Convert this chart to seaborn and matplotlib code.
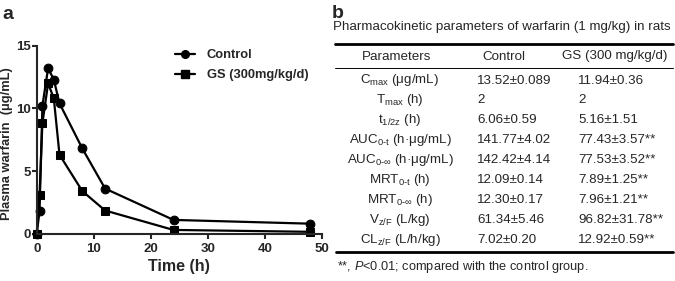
import numpy as np
import pandas as pd
import matplotlib
matplotlib.use('Agg')
import matplotlib.pyplot as plt
import seaborn as sns
from matplotlib.lines import Line2D

# plasma concentration-time data
time_h = [0, 0.5, 1, 2, 3, 4, 8, 12, 24, 48]
control = [0, 1.8, 10.2, 13.2, 12.3, 10.4, 6.8, 3.6, 1.1, 0.8]
gs = [0, 3.1, 8.8, 12.0, 10.8, 6.3, 3.4, 1.85, 0.3, 0.15]
groups = ['Control', 'GS (300mg/kg/d)']

# table contents
tbl_title = 'Pharmacokinetic parameters of warfarin (1 mg/kg) in rats'
tbl_header = ['Parameters', 'Control', 'GS (300 mg/kg/d)']
param_names = [r'C$_\mathregular{max}$ (μg/mL)', r'T$_\mathregular{max}$ (h)',
               r't$_\mathregular{1/2z}$ (h)', r'AUC$_\mathregular{0\text{-}t}$ (h·μg/mL)',
               r'AUC$_\mathregular{0\text{-}∞}$ (h·μg/mL)', r'MRT$_\mathregular{0\text{-}t}$ (h)',
               r'MRT$_\mathregular{0\text{-}∞}$ (h)', r'V$_\mathregular{z/F}$ (L/kg)',
               r'CL$_\mathregular{z/F}$ (L/h/kg)']
control_vals = ['13.52±0.089', '2', '6.06±0.59', '141.77±4.02', '142.42±4.14',
                '12.09±0.14', '12.30±0.17', '61.34±5.46', '7.02±0.20']
gs_vals = ['11.94±0.36', '2', '5.16±1.51', '77.43±3.57**', '77.53±3.52**',
           '7.89±1.25**', '7.96±1.21**', '96.82±31.78**', '12.92±0.59**']
footnote = '**, $\\it{P}$<0.01; compared with the control group.'

df = pd.DataFrame({
    'Time': time_h * 2,
    'Conc': control + gs,
    'Group': [groups[0]] * len(time_h) + [groups[1]] * len(time_h),
})

sns.set_style('ticks')
plt.rcParams['font.family'] = ['Liberation Sans', 'DejaVu Sans']
plt.rcParams['mathtext.fontset'] = 'custom'
plt.rcParams['mathtext.rm'] = 'Liberation Sans'
plt.rcParams['mathtext.it'] = 'Liberation Sans:italic'

W, H = 675, 281
fig = plt.figure(figsize=(6.75, 2.81), dpi=100)

def fx(px):
    return px / W

def fy(py):
    return 1 - py / H

# panel a
x0, x1, y0, y1 = 36.7, 321.7, 233.7, 45.7
ax = fig.add_axes([fx(x0), fy(y0), fx(x1 - x0), fy(y1) - fy(y0)])
sns.lineplot(data=df, x='Time', y='Conc', hue='Group', style='Group',
             markers={groups[0]: 'o', groups[1]: 's'}, dashes=False,
             palette=['black', 'black'], linewidth=1.6, markersize=6.3,
             markeredgecolor='black', ax=ax, legend=False)
for ln in ax.lines:
    ln.set_clip_on(False)
ax.set_xlim(0, 50)
ax.set_ylim(0, 15)
ax.set_xticks([0, 10, 20, 30, 40, 50])
ax.set_yticks([0, 5, 10, 15])
sns.despine(ax=ax)
for s in ['left', 'bottom']:
    ax.spines[s].set_linewidth(1.5)
ax.tick_params(width=1.5, length=3.5, labelsize=9.5)
ax.tick_params(axis='x', pad=3.5)
ax.tick_params(axis='y', pad=1)
for lab in ax.get_xticklabels() + ax.get_yticklabels():
    lab.set_fontweight('bold')
ax.set_xlabel('Time (h)', fontsize=11.5, fontweight='bold')
ax.set_ylabel('Plasma warfarin  (μg/mL)', fontsize=9.3, fontweight='bold')
ax.xaxis.set_label_coords(0.5, (y0 - 259) / (y0 - y1))
ax.yaxis.set_label_coords((13.5 - x0) / (x1 - x0), 0.48)

handles = [Line2D([], [], color='black', marker='o', lw=1.6, markersize=5.5),
           Line2D([], [], color='black', marker='s', lw=1.6, markersize=5.5)]
fig.legend(handles, groups, loc='upper left', bbox_to_anchor=(fx(175), fy(49)),
           frameon=False, prop={'weight': 'bold', 'size': 9.3},
           handlelength=1.55, handletextpad=0.9, labelspacing=0.62,
           borderpad=0, borderaxespad=0)

fig.text(fx(2), fy(19), 'a', fontsize=14, fontweight='bold', va='baseline')
fig.text(fx(332), fy(18), 'b', fontsize=14, fontweight='bold', va='baseline')

# panel b: table
fs = 9.6
fig.text(fx(333), fy(27), tbl_title, fontsize=fs, va='center')
fig.add_artist(Line2D([fx(335), fx(673)], [fy(43.5), fy(43.5)], color='black', lw=2.0))
fig.text(fx(397), fy(56.5), tbl_header[0], fontsize=fs, va='center', ha='center')
fig.text(fx(504), fy(56.5), tbl_header[1], fontsize=fs, va='center', ha='center')
fig.text(fx(615), fy(56.5), tbl_header[2], fontsize=fs, va='center', ha='center')
fig.add_artist(Line2D([fx(335), fx(673)], [fy(67.5), fy(67.5)], color='black', lw=0.7))
row_y = np.linspace(80.5, 240, len(param_names))
for yy, name, cv, gv in zip(row_y, param_names, control_vals, gs_vals):
    fig.text(fx(400), fy(yy), name, fontsize=fs, va='center', ha='center')
    fig.text(fx(477), fy(yy), cv, fontsize=fs, va='center', ha='left')
    fig.text(fx(578), fy(yy), gv, fontsize=fs, va='center', ha='left')
fig.add_artist(Line2D([fx(336), fx(673)], [fy(252), fy(252)], color='black', lw=2.0))
fig.text(fx(337), fy(267), footnote, fontsize=9.2, va='center')

fig.savefig('out.png', dpi=100)
